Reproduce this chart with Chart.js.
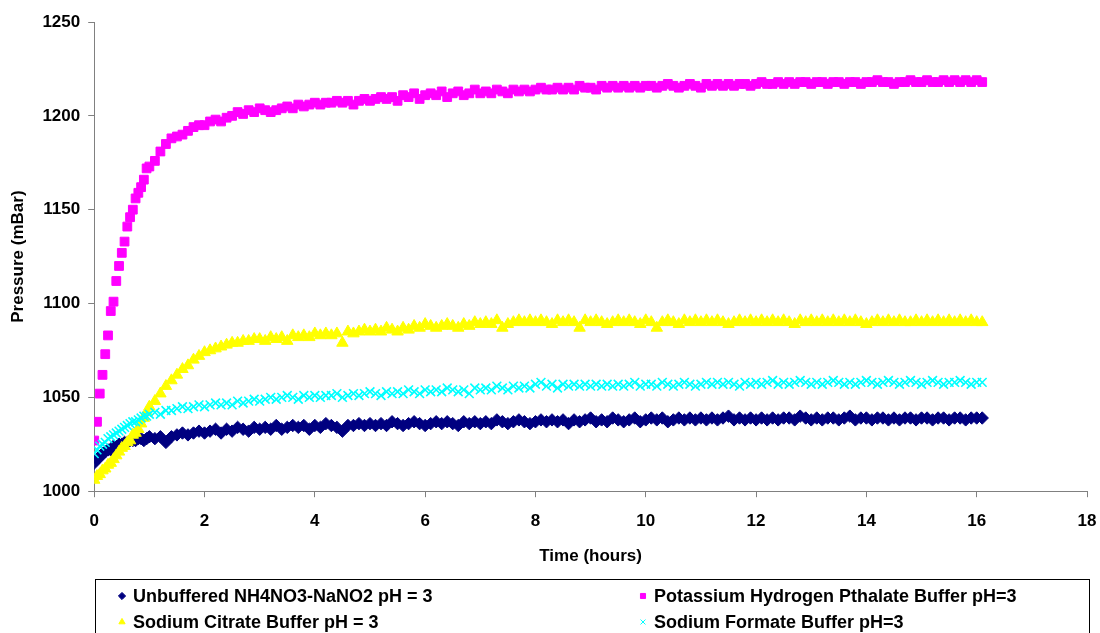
<!DOCTYPE html>
<html>
<head>
<meta charset="utf-8">
<title>Pressure vs time</title>
<script src="https://cdn.jsdelivr.net/npm/chart.js@4.4.1/dist/chart.umd.min.js"></script>
<style>
  html, body { margin: 0; padding: 0; background: #fff; }
  #wrap { width: 1100px; height: 633px; position: relative; }
</style>
</head>
<body>
<div id="wrap"><canvas id="myChart" width="1100" height="633"></canvas></div>
<script>
// time of each reading (hours)
const hours = [
  0, 0.05, 0.1, 0.15, 0.2, 0.25, 0.3, 0.35, 0.4, 0.45, 0.5, 0.55, 0.6, 0.65, 0.7, 0.75, 0.8, 0.85, 0.9, 0.95, 1,
  1.1, 1.2, 1.3, 1.4, 1.5, 1.6, 1.7, 1.8, 1.9, 2,
  2.1, 2.2, 2.3, 2.4, 2.5, 2.6, 2.7, 2.8, 2.9, 3,
  3.1, 3.2, 3.3, 3.4, 3.5, 3.6, 3.7, 3.8, 3.9, 4,
  4.1, 4.2, 4.3, 4.4, 4.5, 4.6, 4.7, 4.8, 4.9, 5,
  5.1, 5.2, 5.3, 5.4, 5.5, 5.6, 5.7, 5.8, 5.9, 6,
  6.1, 6.2, 6.3, 6.4, 6.5, 6.6, 6.7, 6.8, 6.9, 7,
  7.1, 7.2, 7.3, 7.4, 7.5, 7.6, 7.7, 7.8, 7.9, 8,
  8.1, 8.2, 8.3, 8.4, 8.5, 8.6, 8.7, 8.8, 8.9, 9,
  9.1, 9.2, 9.3, 9.4, 9.5, 9.6, 9.7, 9.8, 9.9, 10,
  10.1, 10.2, 10.3, 10.4, 10.5, 10.6, 10.7, 10.8, 10.9, 11,
  11.1, 11.2, 11.3, 11.4, 11.5, 11.6, 11.7, 11.8, 11.9, 12,
  12.1, 12.2, 12.3, 12.4, 12.5, 12.6, 12.7, 12.8, 12.9, 13,
  13.1, 13.2, 13.3, 13.4, 13.5, 13.6, 13.7, 13.8, 13.9, 14,
  14.1, 14.2, 14.3, 14.4, 14.5, 14.6, 14.7, 14.8, 14.9, 15,
  15.1, 15.2, 15.3, 15.4, 15.5, 15.6, 15.7, 15.8, 15.9, 16,
  16.1
];

// pressure (mBar)
const unbuffered = [
  1015, 1017, 1018, 1020, 1021, 1022, 1022, 1024, 1023, 1025, 1025, 1026, 1026, 1027, 1027, 1027, 1028, 1028, 1027, 1028, 1029,
  1028, 1029, 1026, 1029, 1030, 1031, 1030, 1031, 1032, 1031,
  1032, 1033, 1031, 1033, 1032, 1034, 1033, 1032, 1034, 1033,
  1034, 1033, 1035, 1033, 1034, 1035, 1034, 1035, 1033, 1035,
  1034, 1036, 1035, 1034, 1032, 1035, 1035, 1036, 1035, 1036,
  1035, 1036, 1035, 1037, 1036, 1035, 1036, 1037, 1036, 1035,
  1036, 1037, 1036, 1037, 1036, 1035, 1037, 1036, 1037, 1036,
  1037, 1036, 1038, 1037, 1036, 1037, 1038, 1037, 1036, 1037,
  1038, 1037, 1038, 1037, 1038, 1036, 1038, 1037, 1038, 1039,
  1037, 1038, 1037, 1039, 1038, 1037, 1038, 1039, 1037, 1038,
  1039, 1038, 1039, 1037, 1038, 1039, 1038, 1039, 1038, 1039,
  1038, 1039, 1038, 1039, 1040, 1038, 1039, 1038, 1039, 1038,
  1039, 1038, 1039, 1038, 1039, 1039, 1038, 1040, 1039, 1038,
  1039, 1038, 1039, 1039, 1038, 1039, 1040, 1038, 1039, 1039,
  1038, 1039, 1039, 1038, 1039, 1038, 1039, 1039, 1038, 1039,
  1039, 1038, 1039, 1039, 1038, 1039, 1039, 1038, 1039, 1039,
  1039
];

const phthalate = [
  1027, 1037, 1052, 1062, 1073, 1083, 1096, 1101, 1112, 1120, 1127, 1133, 1141, 1146, 1150, 1156, 1159, 1162, 1166, 1172, 1173,
  1176, 1181, 1185, 1188, 1189, 1190, 1192, 1194, 1195, 1195,
  1197, 1198, 1197, 1199, 1200, 1202, 1201, 1203, 1202, 1204,
  1203, 1202, 1203, 1204, 1205, 1204, 1206, 1205, 1206, 1207,
  1206, 1207, 1207, 1208, 1207, 1208, 1206, 1208, 1209, 1208,
  1209, 1210, 1209, 1210, 1208, 1211, 1210, 1212, 1209, 1211,
  1212, 1211, 1213, 1210, 1212, 1213, 1211, 1212, 1214, 1212,
  1213, 1212, 1214, 1213, 1212, 1214, 1213, 1214, 1213, 1214,
  1215, 1214, 1214, 1215, 1214, 1215, 1214, 1216, 1215, 1215,
  1214, 1216, 1215, 1216, 1215, 1216, 1215, 1216, 1215, 1216,
  1216, 1215, 1216, 1217, 1216, 1215, 1216, 1217, 1216, 1215,
  1217, 1216, 1217, 1216, 1217, 1216, 1217, 1217, 1216, 1217,
  1218, 1217, 1217, 1218, 1217, 1218, 1217, 1218, 1218, 1217,
  1218, 1218, 1217, 1218, 1218, 1217, 1218, 1218, 1217, 1218,
  1218, 1219, 1218, 1218, 1217, 1218, 1218, 1219, 1218, 1218,
  1219, 1218, 1218, 1219, 1218, 1219, 1218, 1219, 1218, 1219,
  1218
];

const citrate = [
  1006, 1008, 1009, 1011, 1012, 1014, 1015, 1017, 1019, 1021, 1023, 1024, 1026, 1027, 1030, 1031, 1033, 1036, 1039, 1042, 1045,
  1048, 1052, 1056, 1059, 1062, 1065, 1067, 1070, 1072, 1074,
  1075, 1076, 1077, 1078, 1079, 1079, 1080, 1080, 1081, 1081,
  1080, 1082, 1081, 1082, 1080, 1083, 1082, 1083, 1082, 1084,
  1083, 1084, 1083, 1084, 1079, 1085, 1084, 1085, 1086, 1085,
  1086, 1085, 1087, 1086, 1085, 1087, 1086, 1088, 1087, 1089,
  1088, 1087, 1088, 1089, 1088, 1087, 1089, 1088, 1090, 1089,
  1090, 1089, 1091, 1087, 1089, 1090, 1091, 1090, 1091, 1090,
  1091, 1090, 1089, 1091, 1090, 1091, 1090, 1087, 1091, 1090,
  1091, 1090, 1089, 1090, 1091, 1090, 1091, 1090, 1089, 1091,
  1090, 1087, 1090, 1091, 1090, 1089, 1091, 1090, 1091, 1090,
  1091, 1090, 1091, 1090, 1089, 1090, 1091, 1090, 1091, 1090,
  1091, 1090, 1091, 1090, 1091, 1090, 1089, 1091, 1090, 1091,
  1090, 1091, 1090, 1091, 1090, 1091, 1090, 1091, 1090, 1089,
  1090, 1091, 1090, 1091, 1090, 1091, 1090, 1090, 1091, 1090,
  1091, 1090, 1091, 1090, 1091, 1090, 1091, 1090, 1091, 1090,
  1090
];

const formate = [
  1020, 1022, 1024, 1025, 1026, 1028, 1029, 1030, 1031, 1032, 1033, 1034, 1035, 1036, 1037, 1037, 1038, 1039, 1040, 1040, 1041,
  1042, 1041, 1043, 1043, 1044, 1045, 1044, 1045, 1046, 1045,
  1046, 1047, 1046, 1047, 1046, 1048, 1047, 1048, 1049, 1048,
  1049, 1050, 1049, 1050, 1051, 1050, 1049, 1051, 1050, 1051,
  1050, 1051, 1051, 1052, 1050, 1051, 1052, 1051, 1052, 1053,
  1052, 1051, 1053, 1052, 1053, 1052, 1054, 1053, 1052, 1054,
  1053, 1054, 1053, 1055, 1054, 1053, 1054, 1052, 1055, 1054,
  1055, 1054, 1056, 1055, 1054, 1056, 1055, 1056, 1055, 1057,
  1058, 1056, 1057, 1055, 1057, 1056, 1057, 1056, 1057, 1056,
  1057, 1056, 1057, 1056, 1057, 1056, 1057, 1058, 1056, 1057,
  1057, 1056, 1058, 1057, 1056, 1057, 1058, 1057, 1056, 1057,
  1058, 1057, 1058, 1057, 1058, 1057, 1056, 1058, 1057, 1058,
  1057, 1058, 1059, 1057, 1058, 1057, 1058, 1059, 1058, 1057,
  1058, 1057, 1058, 1059, 1058, 1057, 1058, 1057, 1058, 1059,
  1058, 1057, 1058, 1059, 1058, 1057, 1058, 1059, 1058, 1057,
  1058, 1059, 1058, 1057, 1058, 1058, 1059, 1058, 1057, 1058,
  1058
];

const seriesNames = [
  "Unbuffered NH4NO3-NaNO2 pH = 3",
  "Potassium Hydrogen Pthalate Buffer pH=3",
  "Sodium Citrate Buffer pH = 3",
  "Sodium Formate Buffer pH=3"
];
const xTicks = [0, 2, 4, 6, 8, 10, 12, 14, 16, 18];
const yTicks = [1000, 1050, 1100, 1150, 1200, 1250];

const FONT = '"Liberation Sans", Arial, Helvetica, sans-serif';

function points(values) {
  return values.map((v, i) => ({ x: hours[i], y: v }));
}

const styles = [
  { color: "#000080", pointStyle: "rectRot", radius: 6.2, borderWidth: 1, order: 4 },
  { color: "#FF00FF", pointStyle: "rect", radius: 6.2, borderWidth: 1, order: 3 },
  { color: "#FFFF00", pointStyle: "triangle", radius: 6.6, borderWidth: 1, order: 2 },
  { color: "#00FFFF", pointStyle: "crossRot", radius: 6.2, borderWidth: 1.6, order: 1 }
];
const allValues = [unbuffered, phthalate, citrate, formate];

const datasets = allValues.map((vals, i) => ({
  label: seriesNames[i],
  data: points(vals),
  showLine: false,
  pointStyle: styles[i].pointStyle,
  pointRadius: styles[i].radius,
  pointBorderWidth: styles[i].borderWidth,
  backgroundColor: styles[i].color,
  borderColor: styles[i].color,
  order: styles[i].order
}));

// legend in a box under the chart, two columns
const boxLegend = {
  id: "boxLegend",
  afterDraw(chart) {
    const ctx = chart.ctx;
    ctx.save();
    ctx.strokeStyle = "#000";
    ctx.lineWidth = 1;
    ctx.strokeRect(95.5, 579.5, 994, 60);
    ctx.font = "bold 18px " + FONT;
    ctx.textBaseline = "middle";
    ctx.fillStyle = "#000";
    chart.data.datasets.forEach((ds, i) => {
      const col = i % 2;
      const row = Math.floor(i / 2);
      const mx = col === 0 ? 122 : 643;
      const my = row === 0 ? 596 : 622;
      ctx.fillStyle = styles[i].color;
      ctx.strokeStyle = styles[i].color;
      ctx.lineWidth = 1;
      Chart.helpers.drawPoint(ctx, {
        pointStyle: styles[i].pointStyle,
        radius: i === 3 ? 3.5 : 3.6,
        rotation: 0,
        borderWidth: 1
      }, mx, my);
      ctx.fillStyle = "#000";
      ctx.fillText(ds.label, mx + 11, my + 1);
    });
    ctx.restore();
  }
};

new Chart(document.getElementById("myChart"), {
  type: "scatter",
  data: { datasets: datasets },
  options: {
    responsive: false,
    animation: false,
    devicePixelRatio: 1,
    layout: { padding: { left: 8, right: 13, top: 22, bottom: 66 } },
    plugins: {
      legend: { display: false },
      tooltip: { enabled: false }
    },
    scales: {
      x: {
        type: "linear",
        min: xTicks[0],
        max: xTicks[xTicks.length - 1],
        afterBuildTicks: (axis) => { axis.ticks = xTicks.map(v => ({ value: v })); },
        afterFit: (axis) => { axis.paddingRight = 0; },
        ticks: { color: "#000", font: { family: FONT, size: 17, weight: "bold" }, padding: 14, maxRotation: 0,
                 callback: (v) => String(v) },
        grid: { drawOnChartArea: false, drawTicks: true, tickLength: 6, color: "#808080" },
        border: { color: "#808080", width: 1 },
        title: { display: true, text: "Time (hours)", color: "#000", font: { family: FONT, size: 17, weight: "bold" }, padding: { top: 1, bottom: 0 } }
      },
      y: {
        min: yTicks[0],
        max: yTicks[yTicks.length - 1],
        afterBuildTicks: (axis) => { axis.ticks = yTicks.map(v => ({ value: v })); },
        ticks: { color: "#000", font: { family: FONT, size: 17, weight: "bold" }, padding: 8,
                 callback: (v) => String(v) },
        grid: { drawOnChartArea: false, drawTicks: true, tickLength: 6, color: "#808080" },
        border: { color: "#808080", width: 1 },
        title: { display: true, text: "Pressure (mBar)", color: "#000", font: { family: FONT, size: 17, weight: "bold" }, padding: { top: 0, bottom: 6 } }
      }
    }
  },
  plugins: [boxLegend]
});
</script>
</body>
</html>
